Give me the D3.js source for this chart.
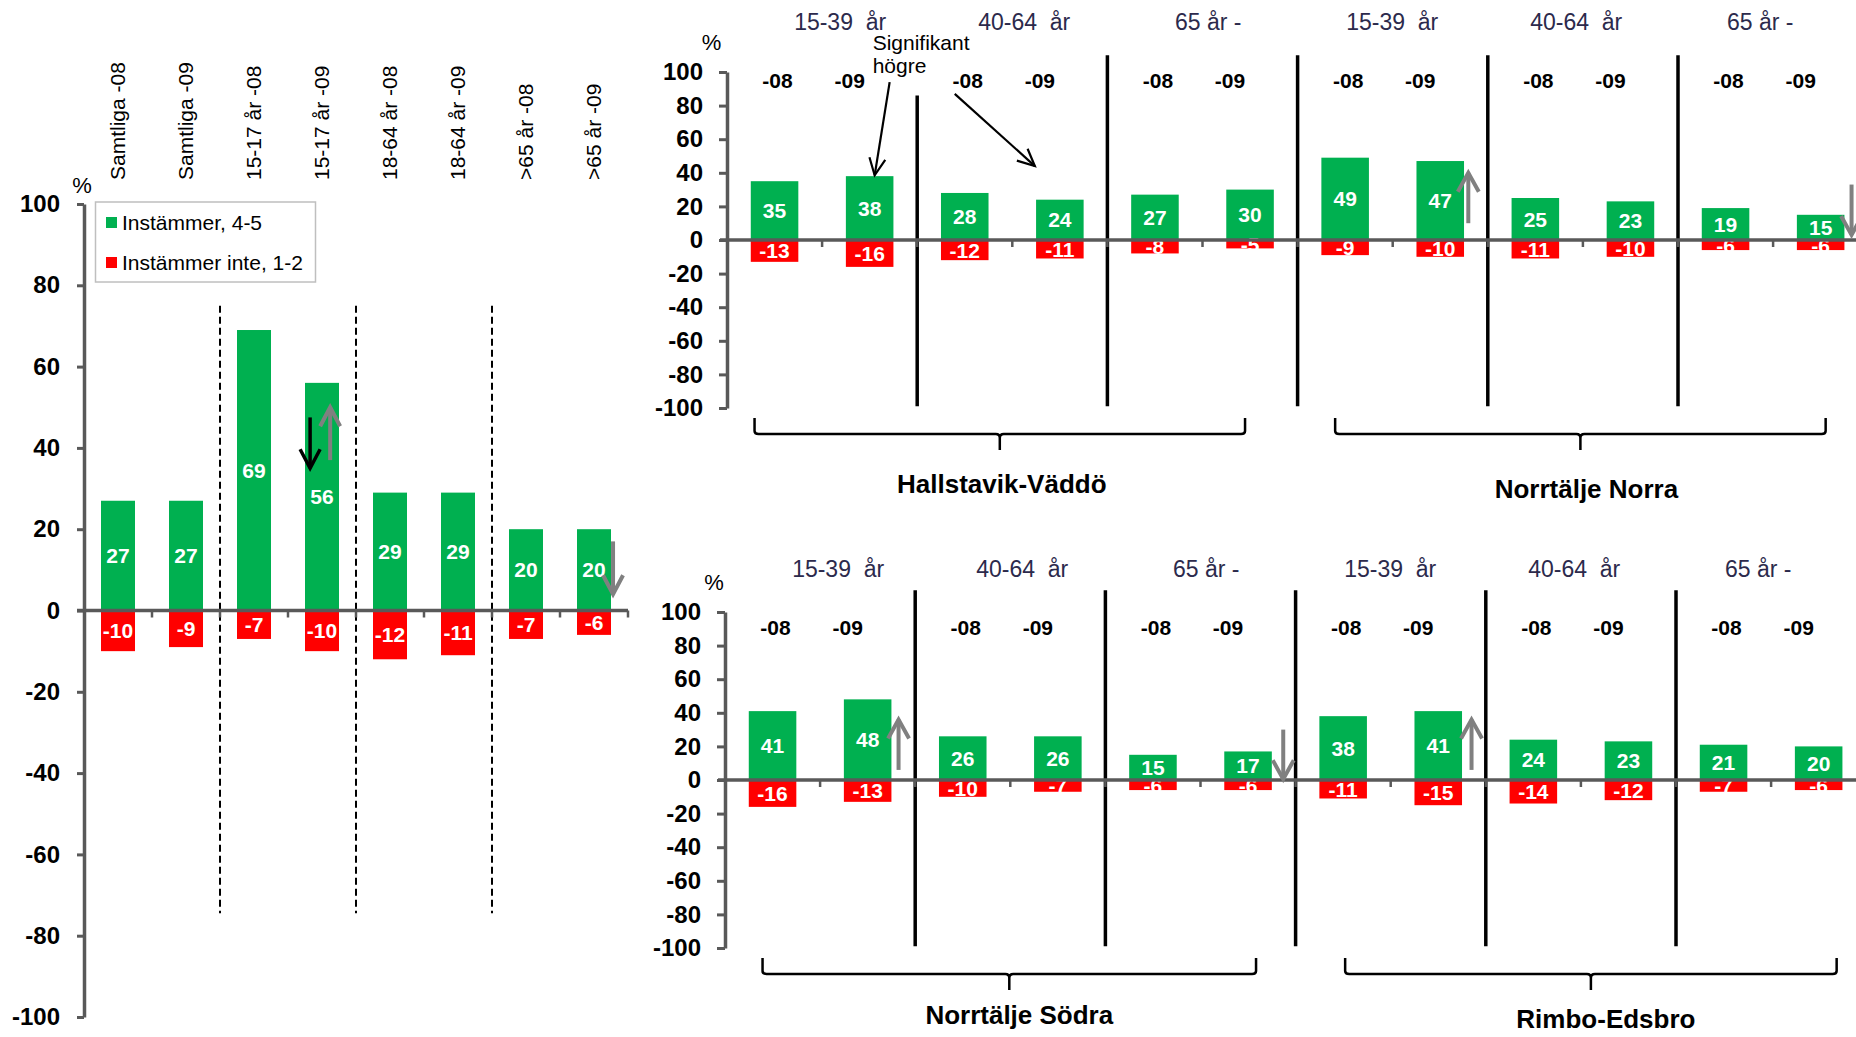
<!DOCTYPE html>
<html><head><meta charset="utf-8">
<script src="https://cdn.jsdelivr.net/npm/d3@7"></script>
<style>
body{margin:0;background:#fff}
svg{display:block}
text{font-family:"Liberation Sans",Arial,Helvetica,sans-serif}
</style>
</head><body>
<svg id="c" width="1856" height="1037"></svg>
<script>
// ---------------- DATA ----------------
const leftCategories = ["Samtliga -08","Samtliga -09","15-17 år -08","15-17 år -09","18-64 år -08","18-64 år -09",">65 år -08",">65 år -09"];
const leftAgree    = [27, 27, 69, 56, 29, 29, 20, 20];
const leftDisagree = [-10, -9, -7, -10, -12, -11, -7, -6];
const legendLabels = ["Instämmer, 4-5", "Instämmer inte, 1-2"];
const yTickValues  = [100, 80, 60, 40, 20, 0, -20, -40, -60, -80, -100];

const regionNames = ["Hallstavik-Väddö", "Norrtälje Norra", "Norrtälje Södra", "Rimbo-Edsbro"];
const ageGroups   = ["15-39\u00a0 år", "40-64\u00a0 år", "65 år -"];
const years       = ["-08", "-09"];

const hallstavikAgree    = [35, 38, 28, 24, 27, 30];
const hallstavikDisagree = [-13, -16, -12, -11, -8, -5];
const norraAgree         = [49, 47, 25, 23, 19, 15];
const norraDisagree      = [-9, -10, -11, -10, -6, -6];
const sodraAgree         = [41, 48, 26, 26, 15, 17];
const sodraDisagree      = [-16, -13, -10, -7, -6, -6];
const rimboAgree         = [38, 41, 24, 23, 21, 20];
const rimboDisagree      = [-11, -15, -14, -12, -7, -6];

const significanceNote = ["Signifikant", "högre"];

// significance arrows: bar index, colour, value range
const leftArrows   = [{bar:3, color:"black", from:47.5, to:35},
                      {bar:3, color:"gray",  from:37,   to:50},
                      {bar:7, color:"gray",  from:17,   to:4}];
const topArrows    = [{bar:7,  color:"gray", from:10, to:40},
                      {bar:11, color:"gray", from:33, to:3}];
const bottomArrows = [{bar:1, color:"gray", from:6,  to:36},
                      {bar:5, color:"gray", from:30, to:0.5},
                      {bar:7, color:"gray", from:6,  to:36}];

// ---------------- STYLE / LAYOUT ----------------
const GREEN = "#00B050", RED = "#FF0000", AXIS = "#595959", GRAYARROW = "#808080";
const leftArrowSide   = [-0.35, 0.24, 0.56];
const topArrowSide    = [0.59, 0.65];
const bottomArrowSide = [0.65, 0.74, 0.70];
const svg = d3.select("#c");

function arrow(g, x1, y1, x2, y2, color, width, headLen, headHalf) {
  g.append("line").attr("x1", x1).attr("y1", y1).attr("x2", x2).attr("y2", y2)
    .attr("stroke", color).attr("stroke-width", width);
  const a = Math.atan2(y2 - y1, x2 - x1);
  const bx = x2 - headLen * Math.cos(a), by = y2 - headLen * Math.sin(a);
  const px = -Math.sin(a) * headHalf, py = Math.cos(a) * headHalf;
  g.append("path").attr("d", `M${bx+px},${by+py}L${x2},${y2}L${bx-px},${by-py}`)
    .attr("fill", "none").attr("stroke", color).attr("stroke-width", width);
}

function styleYAxis(g) {
  g.select(".domain").attr("stroke", AXIS).attr("stroke-width", 3.5);
  g.selectAll(".tick line").attr("stroke", AXIS).attr("stroke-width", 3);
  g.selectAll(".tick text").attr("font-size", 24).attr("font-weight", "bold").attr("fill", "#000");
}

function drawBars(g, x, y, keys, agree, disagree) {
  const bw = x.bandwidth();
  g.selectAll(null).data(agree).join("rect")
    .attr("x", (d, i) => x(keys[i])).attr("y", d => y(d))
    .attr("width", bw).attr("height", d => y(0) - y(d)).attr("fill", GREEN);
  g.selectAll(null).data(disagree).join("rect")
    .attr("x", (d, i) => x(keys[i])).attr("y", y(0))
    .attr("width", bw).attr("height", d => y(d) - y(0)).attr("fill", RED);
  const lab = g.append("g").attr("font-size", 21).attr("font-weight", "bold")
    .attr("fill", "#fff").attr("text-anchor", "middle");
  lab.selectAll(null).data(agree).join("text")
    .attr("x", (d, i) => x(keys[i]) + bw / 2).attr("y", d => (y(d) + y(0)) / 2)
    .attr("dy", "0.36em").text(d => d);
  lab.selectAll(null).data(disagree).join("text")
    .attr("x", (d, i) => x(keys[i]) + bw / 2).attr("y", d => (y(d) + y(0)) / 2)
    .attr("dy", "0.36em").text(d => d);
}

function zeroLine(g, x, y, n) {
  const r0 = x.range()[0];
  g.append("line").attr("x1", r0 - 7).attr("x2", x.range()[1]).attr("y1", y(0)).attr("y2", y(0))
    .attr("stroke", AXIS).attr("stroke-width", 3.5);
  g.selectAll(null).data(d3.range(1, n + 1)).join("line")
    .attr("x1", i => r0 + i * x.step()).attr("x2", i => r0 + i * x.step())
    .attr("y1", y(0)).attr("y2", y(0) + 7).attr("stroke", AXIS).attr("stroke-width", 2.5);
}

// ---------------- LEFT CHART ----------------
(function () {
  const x = d3.scaleBand().domain(leftCategories).range([84, 628]).paddingInner(0.5).paddingOuter(0.25);
  const y = d3.scaleLinear().domain([-100, 100]).range([1017, 204]);
  const g = svg.append("g");
  const r0 = x.range()[0];

  g.selectAll(null).data([2, 4, 6]).join("line")
    .attr("x1", i => r0 + i * x.step()).attr("x2", i => r0 + i * x.step())
    .attr("y1", y(75)).attr("y2", y(-74.5))
    .attr("stroke", "#000").attr("stroke-width", 2).attr("stroke-dasharray", "7,4");

  drawBars(g, x, y, leftCategories, leftAgree, leftDisagree);
  zeroLine(g, x, y, leftCategories.length);

  const ya = g.append("g").attr("transform", `translate(${r0},0)`)
    .call(d3.axisLeft(y).tickValues(yTickValues).tickSize(7).tickSizeOuter(0).tickPadding(17).tickFormat(d => String(d)));
  styleYAxis(ya);

  g.append("text").attr("x", r0 - 2).attr("y", y(100) - 11).attr("text-anchor", "middle")
    .attr("font-size", 22).text("%");

  // rotated category labels (read bottom to top)
  g.selectAll(null).data(leftCategories).join("text")
    .attr("transform", d => `translate(${x(d) + x.bandwidth() / 2 + 7},${y(100) - 24}) rotate(-90)`)
    .attr("text-anchor", "start").attr("font-size", 21).text(d => d);

  // legend
  const lg = g.append("g").attr("transform", `translate(${r0 + 11.5},${y(100) - 2})`);
  lg.append("rect").attr("width", 220).attr("height", 80).attr("fill", "#fff")
    .attr("stroke", "#BFBFBF").attr("stroke-width", 1.5);
  lg.selectAll(null).data(legendLabels).join("rect")
    .attr("x", 10.5).attr("y", (d, i) => 15 + i * 40).attr("width", 11).attr("height", 11)
    .attr("fill", (d, i) => i === 0 ? GREEN : RED);
  lg.selectAll(null).data(legendLabels).join("text")
    .attr("x", 26.5).attr("y", (d, i) => 28 + i * 40).attr("font-size", 21).text(d => d);

  leftArrows.forEach((a, k) => {
    const cx = x(leftCategories[a.bar]) + x.bandwidth() / 2 + leftArrowSide[k] * x.bandwidth();
    const col = a.color === "black" ? "#000" : GRAYARROW;
    arrow(g, cx, y(a.from), cx, y(a.to), col, a.color === "black" ? 3.5 : 4, 19, 10);
  });
})();

// ---------------- RIGHT PANELS ----------------
function drawPanel(cfg) {
  const keys = [];
  cfg.regions.forEach(r => ageGroups.forEach(a => years.forEach(yr => keys.push(`${r}|${a}|${yr}`))));
  const agree = cfg.agree.flat(), disagree = cfg.disagree.flat();
  const step = 95.1;
  const x = d3.scaleBand().domain(keys).range([cfg.x0, cfg.x0 + keys.length * step]).paddingInner(0.5).paddingOuter(0.25);
  const y = d3.scaleLinear().domain([-100, 100]).range([cfg.yBot, cfg.yTop]);
  const g = svg.append("g");
  const r0 = x.range()[0];
  const cx = i => x(keys[i]) + x.bandwidth() / 2;

  // solid separators
  const seps = d3.range(2, keys.length, 2);
  g.selectAll(null).data(seps).join("line")
    .attr("x1", i => r0 + i * step).attr("x2", i => r0 + i * step)
    .attr("y1", (i, k) => y(k === 0 ? cfg.firstSepTop : cfg.sepTop)).attr("y2", y(-99))
    .attr("stroke", "#000").attr("stroke-width", 3.5);

  drawBars(g, x, y, keys, agree, disagree);
  zeroLine(g, x, y, keys.length);

  const ya = g.append("g").attr("transform", `translate(${r0},0)`)
    .call(d3.axisLeft(y).tickValues(yTickValues).tickSize(8).tickSizeOuter(0).tickPadding(16).tickFormat(d => String(d)));
  styleYAxis(ya);

  g.append("text").attr("x", r0 + cfg.pctDx).attr("y", y(100) + cfg.pctDy).attr("text-anchor", "middle")
    .attr("font-size", 22).text("%");

  // age group headers (own text row, slightly narrower spacing than the groups)
  const nGroups = cfg.regions.length * ageGroups.length;
  g.selectAll(null).data(d3.range(nGroups)).join("text")
    .attr("x", k => r0 + step * 1.19 + k * step * 1.935).attr("y", y(100) - cfg.headerDy)
    .attr("text-anchor", "middle").attr("font-size", 23).attr("fill", "#2c2a4c")
    .text(k => ageGroups[k % ageGroups.length]);

  // year labels
  g.selectAll(null).data(keys).join("text")
    .attr("x", (d, i) => cx(i) + (i % 2 === 1 ? -20 : 3)).attr("y", y(100) + cfg.yearDy)
    .attr("text-anchor", "middle").attr("font-size", 21).attr("font-weight", "bold")
    .text(d => d.split("|")[2]);

  // braces + region names
  cfg.regions.forEach((name, ri) => {
    const first = ri * 6, last = ri * 6 + 5;
    const xL = cx(first) + cfg.braceL[ri], xR = cx(last) + cfg.braceR[ri], xm = (xL + xR) / 2;
    const top = y(-100) + 10, h = y(-100) + 26, tip = y(-100) + 42;
    const p = `M${xL},${top}L${xL},${h-3}Q${xL},${h} ${xL+4},${h}L${xm-4},${h}Q${xm},${h} ${xm},${h+4}L${xm},${tip}` +
              `M${xm},${h+4}Q${xm},${h} ${xm+4},${h}L${xR-4},${h}Q${xR},${h} ${xR},${h-3}L${xR},${top}`;
    g.append("path").attr("d", p).attr("fill", "none").attr("stroke", "#000").attr("stroke-width", 2.5);
    g.append("text").attr("x", xm + cfg.regionDx[ri]).attr("y", h + cfg.regionDy[ri]).attr("text-anchor", "middle")
      .attr("font-size", 26).attr("font-weight", "bold").text(name);
  });

  cfg.arrows.forEach((a, k) => {
    const ax = cx(a.bar) + cfg.arrowSide[k] * x.bandwidth();
    arrow(g, ax, y(a.from), ax, y(a.to), GRAYARROW, 4, 19, 10.5);
  });

  if (cfg.annotate) {
    const tx = cx(1) + 3;
    g.append("text").attr("x", tx).attr("y", y(100) - 22).attr("font-size", 21).text(significanceNote[0]);
    g.append("text").attr("x", tx).attr("y", y(100) + 1).attr("font-size", 21).text(significanceNote[1]);
    arrow(g, cx(1) + 20, y(94), cx(1) + 5, y(38.5), "#000", 2.2, 17, 8);
    arrow(g, cx(2) - 10, y(87), cx(3) - 25, y(44), "#000", 2.2, 17, 8);
  }
}

drawPanel({
  regions: [regionNames[0], regionNames[1]],
  agree: [hallstavikAgree, norraAgree], disagree: [hallstavikDisagree, norraDisagree],
  x0: 727, yTop: 72, yBot: 408, pctDx: -15.5, pctDy: -22, headerDy: 42, yearDy: 16,
  firstSepTop: 86, sepTop: 110, braceL: [-20, -10], braceR: [-5, 5],
  regionDx: [2, 6], regionDy: [59, 64], arrows: topArrows, arrowSide: topArrowSide, annotate: true
});
drawPanel({
  regions: [regionNames[2], regionNames[3]],
  agree: [sodraAgree, rimboAgree], disagree: [sodraDisagree, rimboDisagree],
  x0: 725, yTop: 612, yBot: 948, pctDx: -11, pctDy: -22, headerDy: 35, yearDy: 23,
  firstSepTop: 113, sepTop: 113, braceL: [-10, 2], braceR: [8, 18],
  regionDx: [10, 15], regionDy: [50, 54], arrows: bottomArrows, arrowSide: bottomArrowSide, annotate: false
});
</script>
</body></html>
